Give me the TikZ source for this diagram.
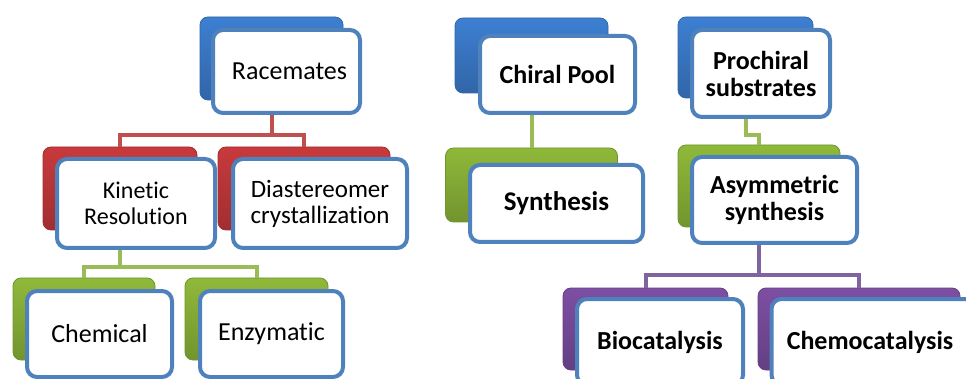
\documentclass[tikz,border=0pt]{standalone}
\usepackage{fontspec}
\setmainfont{Carlito}[Ligatures=NoCommon]
\usepackage{xcolor}
\usepackage{tikz}

\definecolor{backblue}{HTML}{3D7FD2}
\definecolor{backred}{HTML}{C83A3C}
\definecolor{backgreen}{HTML}{8FB93A}
\definecolor{backpurple}{HTML}{7D4FA3}
\definecolor{cardblue}{HTML}{4F81BD}
\definecolor{linkred}{HTML}{C0504D}
\definecolor{linkgreen}{HTML}{9BBB59}
\definecolor{linkpurple}{HTML}{8064A2}

\begin{document}
\begin{tikzpicture}[x=1pt,y=-1pt,
  back/.style={draw=#1!80!black, line width=0.8pt, rounded corners=8pt,
    top color=#1, bottom color=#1!80!black, inner sep=0pt},
  card/.style={draw=cardblue, line width=4pt, fill=white, rounded corners=10pt,
    inner sep=0pt, align=center},
  link/.style={draw=#1, line width=4pt},
  bigtext/.style={font=\fontsize{26}{30}\selectfont},
  twotext/.style={font=\fontsize{26}{27}\selectfont},
  smalltext/.style={font=\fontsize{24}{26}\selectfont}]
\useasboundingbox (0,0) rectangle (966,379);

% backs
\node[back=backblue, minimum width=143, minimum height=83] (rac-b) at (271.5,58.5) {};
\node[back=backred, minimum width=154, minimum height=83] (kin-b) at (120,188.5) {};
\node[back=backred, minimum width=172, minimum height=83] (dia-b) at (304,188.5) {};
\node[back=backgreen, minimum width=142, minimum height=82] (chem-b) at (84,319) {};
\node[back=backgreen, minimum width=143, minimum height=82] (enz-b) at (256.5,319) {};
\node[back=backblue, minimum width=153, minimum height=75] (pool-b) at (531.5,55.5) {};
\node[back=backgreen, minimum width=172, minimum height=74] (syn-b) at (531.5,185) {};
\node[back=backblue, minimum width=135, minimum height=81] (pro-b) at (745.5,57.5) {};
\node[back=backgreen, minimum width=162, minimum height=82] (asy-b) at (759,186) {};
\node[back=backpurple, minimum width=165, minimum height=82] (bio-b) at (645.5,329) {};
\node[back=backpurple, minimum width=202, minimum height=82] (chemo-b) at (859,329) {};

% cards
\node[card, bigtext, minimum width=147, minimum height=83] (rac) at (286.5,71.5) {\hspace{6pt}Racemates};
\node[card, smalltext, minimum width=158, minimum height=89] (kin) at (136,203.5) {Kinetic\\Resolution};
\node[card, smalltext, font=\fontsize{25}{26}\selectfont, minimum width=174, minimum height=89] (dia) at (320,203.5) {Diastereomer\\crystallization};
\node[card, bigtext, minimum width=145, minimum height=86] (chem) at (99.5,334) {Chemical};
\node[card, bigtext, minimum width=143, minimum height=86] (enz) at (271.5,334) {Enzymatic};
\node[card, bigtext, minimum width=155, minimum height=77] (pool) at (557.5,74.5) {\bfseries Chiral Pool};
\node[card, bigtext, font=\fontsize{27}{30}\selectfont, minimum width=173, minimum height=77] (syn) at (556.5,203.5) {\bfseries Synthesis};
\node[card, twotext, minimum width=138, minimum height=87] (pro) at (761,73.5) {\bfseries Prochiral\\\bfseries substrates};
\node[card, twotext, minimum width=165, minimum height=86] (asy) at (774.5,200) {\bfseries Asymmetric\\\bfseries synthesis};
\node[card, bigtext, minimum width=166, minimum height=86] (bio) at (660,342) {\bfseries Biocatalysis};
\node[card, bigtext, minimum width=203, minimum height=86] (chemo) at (873,342) {\bfseries Chemocatalysis\hspace{6pt}};

% links
\draw[link=linkred] (rac-b |- rac.south) -- ++(0,20) -| (kin-b.north);
\draw[link=linkred] (rac-b |- rac.south) -- ++(0,20) -| (dia-b.north);
\draw[link=linkgreen] (kin-b |- kin.south) -- ++(0,17) -| (chem-b.north);
\draw[link=linkgreen] (kin-b |- kin.south) -- ++(0,17) -| (enz-b.north);
\draw[link=linkgreen] (pool-b |- pool.south) -- (syn-b.north);
\draw[link=linkgreen] (pro-b |- pro.south) -- ++(0,16) -| (asy-b.north);
\draw[link=linkpurple] (asy-b |- asy.south) -- ++(0,30) -| (bio-b.north);
\draw[link=linkpurple] (asy-b |- asy.south) -- ++(0,30) -| (chemo-b.north);
\end{tikzpicture}
\end{document}
